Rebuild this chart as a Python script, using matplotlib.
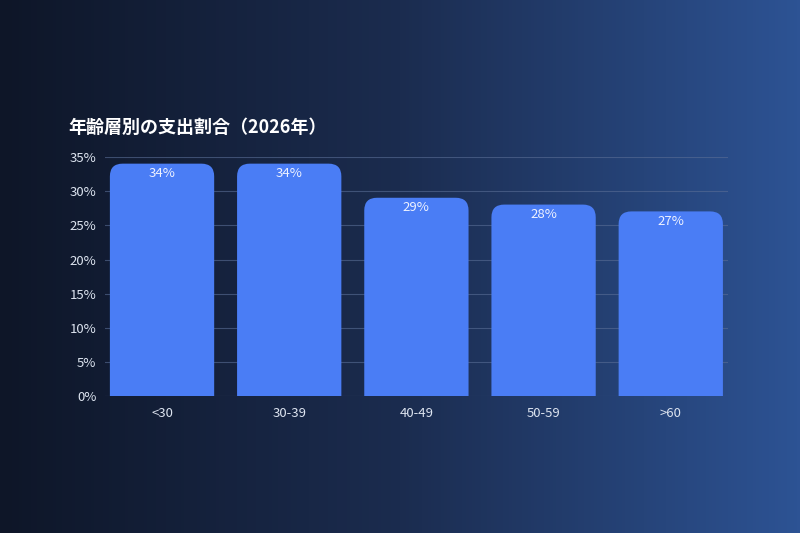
import numpy as np
import matplotlib.pyplot as plt
from matplotlib.patches import FancyBboxPatch

categories = ['<30', '30-39', '40-49', '50-59', '>60']
values = [34, 34, 29, 28, 27]
value_labels = ['34%', '34%', '29%', '28%', '27%']
yticks = [0, 5, 10, 15, 20, 25, 30, 35]

plt.rcParams['font.family'] = ['Noto Sans CJK JP', 'DejaVu Sans']

fig = plt.figure(figsize=(8, 5.33), dpi=100)

# background gradient
bg = fig.add_axes([0, 0, 1, 1], zorder=-1)
grad = np.linspace(0, 1, 256).reshape(1, -1)
from matplotlib.colors import LinearSegmentedColormap
cmap = LinearSegmentedColormap.from_list('bg', ['#0e1628', '#1b2c4f', '#2d5394'])
bg.imshow(grad, aspect='auto', cmap=cmap, extent=[0, 1, 0, 1])
bg.axis('off')

ax = fig.add_axes([0.131, 0.257, 0.779, 0.448])
ax.set_facecolor('none')
ax.set_xlim(-0.45, 4.45)
ax.set_ylim(0, 35)

x = np.arange(len(categories))
bars = ax.bar(x, values, width=0.82, alpha=0)
for b, lab in zip(bars, value_labels):
    p = FancyBboxPatch((b.get_x() + 0.1, -5), b.get_width() - 0.2, b.get_height() + 5 - 1.8,
                       boxstyle='round,pad=0.1,rounding_size=0.1', mutation_aspect=18.6,
                       fc='#4a7df5', ec='none', zorder=3, clip_on=True)
    ax.add_patch(p)
    ax.text(b.get_x() + b.get_width() / 2, b.get_height() - 1.4, lab, ha='center', va='center',
            color='#eef2ff', fontsize=9.5, zorder=4)

ax.set_yticks(yticks)
ax.set_yticklabels([f'{t}%' for t in yticks])
ax.set_xticks(x)
ax.set_xticklabels(categories)
ax.grid(axis='y', color='#5a6e96', linewidth=0.8, alpha=0.6, zorder=0)
ax.set_axisbelow(True)
for s in ax.spines.values():
    s.set_visible(False)
ax.tick_params(length=0, colors='#dde4f0', labelsize=9.5)
ax.tick_params(axis='y', pad=6)
ax.tick_params(axis='x', pad=8)

fig.text(0.085, 0.76, '年齢層別の支出割合（2026年）', color='white', fontsize=13, fontweight='bold',
         va='center')

fig.savefig('out.png', dpi=100)
